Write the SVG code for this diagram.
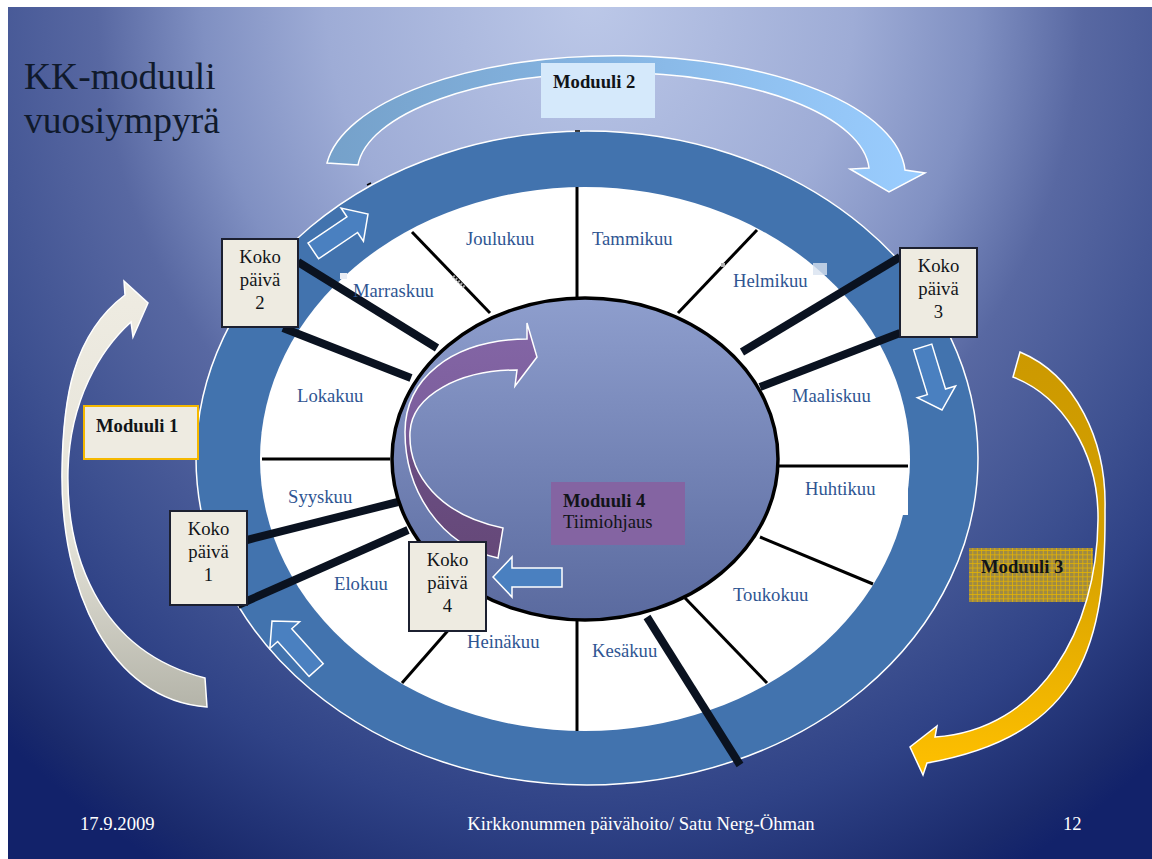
<svg xmlns="http://www.w3.org/2000/svg" width="1152" height="859" viewBox="0 0 1152 859">
<defs>
<radialGradient id="bg" gradientUnits="userSpaceOnUse" cx="590" cy="0" r="880" gradientTransform="translate(590 0) scale(1 1.125) translate(-590 0)">
<stop offset="0" stop-color="#bcc8e8"/>
<stop offset="0.3" stop-color="#9eacd6"/>
<stop offset="0.44" stop-color="#8090c2"/>
<stop offset="0.56" stop-color="#5868a2"/>
<stop offset="0.74" stop-color="#3d5090"/>
<stop offset="0.83" stop-color="#2f4286"/>
<stop offset="0.96" stop-color="#1a2a6c"/>
<stop offset="1" stop-color="#12226a"/>
</radialGradient>
<linearGradient id="m2g" gradientUnits="userSpaceOnUse" x1="330" y1="0" x2="925" y2="0">
<stop offset="0" stop-color="#75a1ca"/>
<stop offset="1" stop-color="#9acdff"/>
</linearGradient>
<linearGradient id="m1g" gradientUnits="userSpaceOnUse" x1="0" y1="280" x2="0" y2="710">
<stop offset="0" stop-color="#efece2"/>
<stop offset="0.6" stop-color="#e4e2d8"/>
<stop offset="1" stop-color="#b3b3a8"/>
</linearGradient>
<linearGradient id="m3g" gradientUnits="userSpaceOnUse" x1="0" y1="350" x2="0" y2="775">
<stop offset="0" stop-color="#cc9900"/>
<stop offset="0.45" stop-color="#d4a000"/>
<stop offset="1" stop-color="#ffc000"/>
</linearGradient>
<linearGradient id="hubg" x1="0" y1="0" x2="0" y2="1">
<stop offset="0" stop-color="#8e9ecd"/>
<stop offset="1" stop-color="#5a6a9f"/>
</linearGradient>
<linearGradient id="m4g" gradientUnits="userSpaceOnUse" x1="0" y1="320" x2="0" y2="560">
<stop offset="0" stop-color="#8466a6"/>
<stop offset="0.45" stop-color="#7c5e9c"/>
<stop offset="0.6" stop-color="#6a4d82"/>
<stop offset="1" stop-color="#654878"/>
</linearGradient>
<pattern id="hatch" patternUnits="userSpaceOnUse" width="4.4" height="4.4">
<rect width="4.4" height="4.4" fill="#9e8a45"/>
<path d="M0,0.4 H4.4 M0.4,0 V4.4" stroke="#e6b400" stroke-width="0.8"/>
</pattern>
<path id="barrow" d="M -66,-9.5 H -19 V -20 L 0,0 L -19,20 V 9.5 H -66 Z"/>
</defs>
<style>
.koko { fill: #eeebe1; stroke: #1c2030; stroke-width: 2; }
.kt { font-family: "Liberation Serif", "Times New Roman", serif; font-size: 18.67px; fill: #111418; text-anchor: middle; }
.month { font-family: "Liberation Serif", "Times New Roman", serif; font-size: 18.67px; fill: #2f5592; }
.mod { font-family: "Liberation Serif", "Times New Roman", serif; font-size: 18.67px; font-weight: bold; fill: #111418; }
.plain { font-family: "Liberation Serif", "Times New Roman", serif; font-size: 18.67px; fill: #111418; }
.foot { font-family: "Liberation Serif", "Times New Roman", serif; font-size: 18.67px; fill: #ffffff; }
.div { stroke: #000000; stroke-width: 3; }
.thick { stroke: #0a1220; stroke-width: 8; }
.sarrow { fill: #4a80c0; stroke: #ffffff; stroke-width: 1.5; }
</style>
<rect width="1152" height="859" fill="#ffffff"/>
<rect x="8" y="7" width="1144" height="852" fill="url(#bg)"/>
<g id="title">
<text x="24" y="89" font-family="Liberation Serif, Times New Roman, serif" font-size="37.5" fill="#101a2c">KK-moduuli</text>
<text x="24" y="133" font-family="Liberation Serif, Times New Roman, serif" font-size="37.5" fill="#101a2c">vuosiympyrä</text>
</g>
<g id="moduuli2-arrow">
<path d="M 327,163 A 290,120 0 0 1 905,170 L 925,173 L 889,192 L 850,169 L 869,168 A 256,100 0 0 0 358,165 Z" fill="url(#m2g)" stroke="#ffffff" stroke-width="1.5"/>
</g>
<g id="wheel">
<ellipse cx="587" cy="458" rx="391" ry="327" fill="#4273ae" stroke="#ffffff" stroke-width="1.5"/>
<ellipse cx="585" cy="459" rx="325" ry="272" fill="#ffffff"/>
<rect x="790" y="467" width="118" height="48" fill="#ffffff"/>
<line x1="575" y1="131" x2="580" y2="131" stroke="#000" stroke-width="1.5"/>
<line x1="367" y1="185" x2="371" y2="183" stroke="#000" stroke-width="1.5"/>
<line class="div" x1="577" y1="187" x2="577" y2="298"/>
<line class="div" x1="577" y1="620" x2="577" y2="731"/>
<line class="div" x1="262" y1="459" x2="390" y2="459"/>
<line class="div" x1="779" y1="466" x2="908" y2="466"/>
<line class="div" x1="412" y1="232" x2="490" y2="313"/>
<line class="div" x1="757" y1="230" x2="678" y2="313"/>
<line class="div" x1="760" y1="537" x2="873" y2="584"/>
<line class="div" x1="685" y1="598" x2="767" y2="683"/>
<line class="div" x1="402" y1="683" x2="480" y2="594"/>
<rect x="340" y="273" width="7" height="6" fill="#e8ecf4"/>
<path d="M 453,276 L 465,288" stroke="#aaaaaa" stroke-width="3" stroke-dasharray="2 1.5"/>
<rect x="813" y="263" width="14" height="12" fill="#d8e2f0" opacity="0.8"/>
<rect x="721" y="263" width="4" height="4" fill="#b0b0b0"/>
</g>
<g id="connectors">
<line class="thick" x1="298" y1="262" x2="437" y2="348"/>
<line class="thick" x1="283" y1="328" x2="411" y2="378"/>
<line class="thick" x1="900" y1="257" x2="742" y2="352"/>
<line class="thick" x1="900" y1="333" x2="760" y2="387"/>
<line class="thick" x1="247" y1="540" x2="398" y2="502"/>
<line class="thick" x1="238" y1="605" x2="408" y2="530"/>
<line class="thick" x1="647" y1="617" x2="740" y2="765"/>
</g>
<g id="hub">
<ellipse cx="585" cy="459" rx="193" ry="161" fill="url(#hubg)" stroke="#000000" stroke-width="3.5"/>
</g>
<g id="moduuli4-arrow">
<path d="M 503,528 C 440,515 408,475 410,432 C 412,395 460,370 517,370 L 515,386 L 537,357 L 527,323 L 527,339 C 450,340 405,380 405,432 C 405,490 440,545 498,558 Z" fill="url(#m4g)" stroke="#ffffff" stroke-width="1.5"/>
</g>
<g id="moduuli4">
<rect x="551" y="482" width="134" height="63" fill="#8464a2"/>
<text class="mod" x="563" y="507">Moduuli 4</text>
<text class="plain" x="563" y="528">Tiimiohjaus</text>
</g>
<g id="small-arrows">
<use href="#barrow" class="sarrow" transform="translate(368 214) rotate(-34)"/>
<use href="#barrow" class="sarrow" transform="translate(942 410) rotate(73)"/>
<use href="#barrow" class="sarrow" transform="translate(272 621) rotate(-132)"/>
<path class="sarrow" d="M 493,577 L 512,557 V 568 H 562 V 587 H 512 V 597 Z"/>
</g>
<g id="months">
<text class="month" x="466" y="245">Joulukuu</text>
<text class="month" x="592" y="245">Tammikuu</text>
<text class="month" x="353" y="297">Marraskuu</text>
<text class="month" x="733" y="287">Helmikuu</text>
<text class="month" x="297" y="402">Lokakuu</text>
<text class="month" x="792" y="402">Maaliskuu</text>
<text class="month" x="288" y="503">Syyskuu</text>
<text class="month" x="805" y="495">Huhtikuu</text>
<text class="month" x="334" y="590">Elokuu</text>
<text class="month" x="733" y="601">Toukokuu</text>
<text class="month" x="467" y="648">Heinäkuu</text>
<text class="month" x="592" y="657">Kesäkuu</text>
</g>
<g id="koko2">
<rect class="koko" x="222" y="239" width="76" height="88"/>
<text class="kt" x="260" y="263">Koko</text>
<text class="kt" x="260" y="286">päivä</text>
<text class="kt" x="260" y="309">2</text>
</g>
<g id="koko3">
<rect class="koko" x="900" y="248" width="77" height="89"/>
<text class="kt" x="938.5" y="272">Koko</text>
<text class="kt" x="938.5" y="295">päivä</text>
<text class="kt" x="938.5" y="318">3</text>
</g>
<g id="koko1">
<rect class="koko" x="170" y="511" width="77" height="94"/>
<text class="kt" x="208.5" y="535">Koko</text>
<text class="kt" x="208.5" y="558">päivä</text>
<text class="kt" x="208.5" y="581">1</text>
</g>
<g id="koko4">
<rect class="koko" x="409" y="542" width="77" height="89"/>
<text class="kt" x="447.5" y="566">Koko</text>
<text class="kt" x="447.5" y="589">päivä</text>
<text class="kt" x="447.5" y="612">4</text>
</g>
<g id="moduuli1-arrow">
<path d="M 207,707 C 110,700 60,590 62,470 C 63,400 72,335 125,295 L 124,281 L 148,303 L 133,337 L 131,322 C 100,350 70,400 68,470 C 66,550 95,650 205,678 Z" fill="url(#m1g)" stroke="#ffffff" stroke-width="1.5"/>
</g>
<g id="moduuli1">
<rect x="84" y="406" width="114" height="53" fill="#eeebe1" stroke="#f5b800" stroke-width="2"/>
<text class="mod" x="96" y="432">Moduuli 1</text>
</g>
<g id="moduuli2">
<rect x="541" y="63" width="114" height="55" fill="#d5e9fb"/>
<text class="mod" x="553" y="88">Moduuli 2</text>
</g>
<g id="moduuli3">
<rect x="969" y="548" width="124" height="54" fill="url(#hatch)"/>
<text class="mod" x="981" y="573">Moduuli 3</text>
</g>
<g id="moduuli3-arrow">
<path d="M 1020,352 C 1075,375 1107,440 1105,510 C 1106,640 1085,735 927,763 L 923,775 L 910,747 L 937,726 L 935,737 C 1040,730 1097,630 1098,520 C 1099,450 1060,395 1013,377 Z" fill="url(#m3g)" stroke="#ffffff" stroke-width="1.5"/>
</g>
<g id="footer">
<text class="foot" x="80" y="830">17.9.2009</text>
<text class="foot" x="641" y="830" text-anchor="middle">Kirkkonummen päivähoito/ Satu Nerg-Öhman</text>
<text class="foot" x="1063" y="830">12</text>
</g>
</svg>
